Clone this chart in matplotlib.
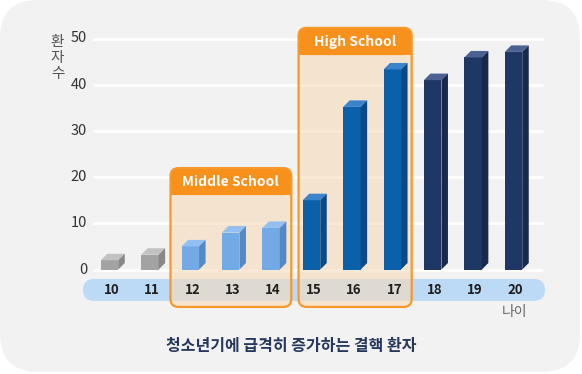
import matplotlib
matplotlib.use("Agg")
import matplotlib.pyplot as plt
from matplotlib.patches import FancyBboxPatch, Polygon, Rectangle

plt.rcParams['font.family'] = ['Noto Sans CJK KR', 'DejaVu Sans']

# ---- data ----
ages = [10, 11, 12, 13, 14, 15, 16, 17, 18, 19, 20]
patients = [2.0, 3.2, 5.0, 8.0, 9.0, 15.0, 35.2, 43.3, 41.0, 45.9, 47.1]
groups = ['pre', 'pre', 'mid', 'mid', 'mid', 'high', 'high', 'high', 'adult', 'adult', 'adult']
yticks = [0, 10, 20, 30, 40, 50]
title = '청소년기에 급격히 증가하는 결핵 환자'
ylabel = '환\n자\n수'
xlabel = '나이'
school_boxes = [('Middle School', 12, 14), ('High School', 15, 17)]

# ---- style ----
colors = {
    'pre':   ('#a3a3a3', '#c2c2c2', '#888888'),
    'mid':   ('#72aae6', '#93c0f0', '#5689c4'),
    'high':  ('#0b60aa', '#3a84cc', '#0a4a86'),
    'adult': ('#1f3764', '#4b6191', '#172a4c'),
}
W, H = 582, 374
fig = plt.figure(figsize=(W / 100, H / 100), dpi=100)
fig.patch.set_facecolor('white')
ax = fig.add_axes([0, 0, 1, 1])
ax.axis('off')

# pixel mapping: x px = 109.5 + 40.4*(age-10); y px = 269.5 - 4.62*value
sx, sy = 40.4, 4.62
x0px, y0px = 109.5, 269.5
ax.set_xlim(10 - x0px / sx, 10 + (W - x0px) / sx)
ax.set_ylim(-(H - y0px) / sy, y0px / sy)
asp = sx / sy

# background panel
panel = FancyBboxPatch((0.0, 0.006), 0.9966, 0.994,
                       boxstyle='round,pad=0,rounding_size=0.065',
                       mutation_aspect=W / H, transform=ax.transAxes,
                       facecolor='#f2f2f2', edgecolor='none', zorder=0)
ax.add_patch(panel)

# gridlines
gx0, gx1 = 10 - 16.5 / sx, 10 + 433.5 / sx
for t in yticks:
    ax.plot([gx0, gx1], [t, t], color='white', lw=2, zorder=1, solid_capstyle='butt')
    ax.text(gx0 - 6 / sx, t, str(t), ha='right', va='center', fontsize=10.5,
            color='#333333', zorder=6)

# category band
band_l, band_r = 10 - 26.5 / sx, 10 + 435.5 / sx
band_b, band_t = -6.8, -2.05
band = FancyBboxPatch((band_l, band_b), band_r - band_l, band_t - band_b,
                      boxstyle='round,pad=0,rounding_size=0.27',
                      mutation_aspect=asp, facecolor='#bcd9f5', edgecolor='none', zorder=2)
ax.add_patch(band)

# school boxes
box_bottom = -8.1
box_specs = {'Middle School': (-0.49, 0.5, 21.95, 16.1),
             'High School': (-0.32, 0.48, 52.3, 46.4)}
r = 8 / sx
for name, a, b in school_boxes:
    lo, hi, top, hdr = box_specs[name]
    L, R = a + lo, b + hi
    fill = FancyBboxPatch((L, box_bottom), R - L, top - box_bottom,
                          boxstyle=f'round,pad=0,rounding_size={r}', mutation_aspect=asp,
                          facecolor='#f7dbb9', edgecolor='none', alpha=0.6, zorder=3)
    ax.add_patch(fill)
    head = FancyBboxPatch((L, hdr), R - L, top - hdr,
                          boxstyle=f'round,pad=0,rounding_size={r}', mutation_aspect=asp,
                          facecolor='#f8901c', edgecolor='none', zorder=5)
    ax.add_patch(head)
    ax.add_patch(Rectangle((L, hdr), R - L, (top - hdr) / 2, facecolor='#f8901c',
                           edgecolor='none', zorder=5))
    border = FancyBboxPatch((L, box_bottom), R - L, top - box_bottom,
                            boxstyle=f'round,pad=0,rounding_size={r}', mutation_aspect=asp,
                            facecolor='none', edgecolor='#f7982a', lw=1.6, zorder=7)
    ax.add_patch(border)
    ax.text((L + R) / 2, (top + hdr) / 2 - 0.1, name, ha='center', va='center',
            fontsize=10, fontweight='bold', color='white', zorder=8)

# 3D bars
w = 17.5 / sx
dx = 6.5 / sx
dy = 6.5 / sy
for x, v, g in zip(ages, patients, groups):
    front, topc, side = colors[g]
    ax.bar(x, v, width=w, color=front, edgecolor='none', zorder=4)
    ax.add_patch(Polygon([(x - w / 2, v), (x + w / 2, v), (x + w / 2 + dx, v + dy),
                          (x - w / 2 + dx, v + dy)], closed=True, facecolor=topc,
                         edgecolor='none', zorder=4))
    ax.add_patch(Polygon([(x + w / 2, 0), (x + w / 2 + dx, dy), (x + w / 2 + dx, v + dy),
                          (x + w / 2, v)], closed=True, facecolor=side,
                         edgecolor='none', zorder=4))
    ax.text(x + 0.05, -4.45, str(x), ha='center', va='center', fontsize=9.5,
            fontweight='bold', color='#1e1e1e', zorder=6)

# labels
ax.text(10 - 52 / sx, 45.8, ylabel, ha='center', va='center', fontsize=10.5,
        color='#555555', linespacing=1.2, zorder=6)
ax.text(20.02, -9.3, xlabel, ha='center', va='center', fontsize=10,
        color='#666666', zorder=6)
ax.text(14.5, -16.6, title, ha='center', va='center', fontsize=11.5,
        fontweight='bold', color='#26395c', zorder=6)

fig.savefig('out.png', dpi=100, facecolor='white')
